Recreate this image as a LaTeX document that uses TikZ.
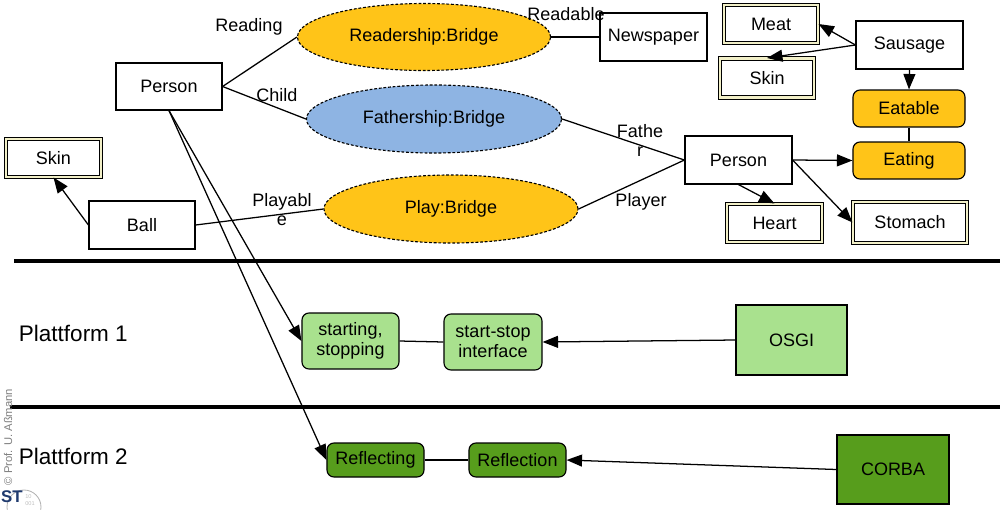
\documentclass[tikz,border=0pt]{standalone}
\usepackage{fontspec}
\setmainfont{Liberation Sans}
\usepackage{tikz}
\usetikzlibrary{arrows.meta,shapes.geometric}
\definecolor{sun}{HTML}{FFC418}
\definecolor{sky}{HTML}{8EB4E3}
\definecolor{leaf}{HTML}{A9E18E}
\definecolor{moss}{HTML}{579D1C}
\definecolor{cream}{HTML}{F2F0C8}
\definecolor{navy}{HTML}{1F3A6E}
\tikzset{
  box/.style={draw,line width=0.8pt,fill=white,inner sep=0pt},
  partbox/.style={box,line width=0.7pt,double=cream,double distance=1.5pt},
  bridge/.style={ellipse,draw,fill=sun,line width=0.8pt,dash pattern=on 2pt off 1.3pt,inner sep=0pt},
  rolebox/.style={draw,line width=0.8pt,rounded corners=5pt,inner sep=0pt,align=center},
  lbl/.style={inner sep=1pt,align=center},
  conn/.style={line width=0.9pt},
  arr/.style={conn,-{Triangle[length=11pt,width=8.5pt]}},
  sepline/.style={line width=2.2pt}
}

\begin{document}
\begin{tikzpicture}[x=0.025cm,y=-0.025cm,font=\fontsize{12.8}{14.5}\selectfont]
    \useasboundingbox (0,0) rectangle (1000,509);
    % separators between the layers
    \coordinate (s1a) at (14,261);
    \coordinate (s1b) at (1000,261);
    \coordinate (s2a) at (10,407);
    \coordinate (s2b) at (1000,407);
    \draw[sepline] (s1a) -- (s1b);
    \draw[sepline] (s2a) -- (s2b);

    % model layer
    \node[box,minimum width=2.65cm,minimum height=1.175cm] (person) at (169,86.5) {Person};
    \node[bridge,minimum width=6.325cm,minimum height=1.675cm] (reader) at (424,37) {Readership:Bridge};
    \node[box,minimum width=2.675cm,minimum height=1.2cm] (paper) at (653.5,37) {Newspaper};
    \node[bridge,fill=sky,minimum width=6.375cm,minimum height=1.7cm] (father) at (434,119) {Fathership:Bridge};
    \node[bridge,minimum width=6.35cm,minimum height=1.7cm] (play) at (451,209) {Play:Bridge};
    \node[box,minimum width=2.65cm,minimum height=1.2cm] (ball) at (142,225) {Ball};
    \node[partbox,minimum width=2.375cm,minimum height=0.95cm] (skinA) at (53.5,158) {Skin};
    \node[box,minimum width=2.675cm,minimum height=1.2cm] (personB) at (738.5,160) {Person};
    \node[partbox,minimum width=2.35cm,minimum height=0.95cm] (meat) at (771,24) {Meat};
    \node[partbox,minimum width=2.35cm,minimum height=0.975cm] (skinB) at (767,78) {Skin};
    \node[box,minimum width=2.675cm,minimum height=1.2cm] (sausage) at (909.5,45) {Sausage};
    \node[rolebox,fill=sun,minimum width=2.8cm,minimum height=0.925cm] (eatable) at (909,108.5) {Eatable};
    \node[rolebox,fill=sun,minimum width=2.8cm,minimum height=0.925cm] (eating) at (909,160.5) {Eating};
    \node[partbox,minimum width=2.375cm,minimum height=0.95cm] (heart) at (774.5,223) {Heart};
    \node[partbox,minimum width=2.85cm,minimum height=1.025cm] (stomach) at (910,222.5) {Stomach};

    % role labels
    \node[lbl] (lread) at (249,27) {Reading};
    \node[lbl] (lchild) at (277,95) {Child};
    \node[lbl] (lreadable) at (566,14) {Readable};
    \node[lbl,text width=1.2cm] (lfather) at (640,140) {Fathe\\[-1pt]r};
    \node[lbl] (lplayer) at (641,202) {Player};
    \node[lbl,text width=1.6cm] (lplayable) at (282,210) {Playabl\\[-1pt]e};

    \draw[conn] (person.east) -- (reader.west);
    \draw[conn] (person.east) -- (father.west);
    \draw[conn] (reader.east) -- (paper.west);
    \draw[conn] (father.east) -- (personB.west);
    \draw[conn] (play.east) -- (personB.west);
    \draw[conn] (ball.east) -- (play.west);
    \draw[arr] (ball.west) -- (skinA.south);
    \draw[arr] (sausage.west) -- (meat.east);
    \draw[arr] (sausage.west) -- (skinB.north);
    \draw[arr] (sausage.south) -- (eatable.north);
    \draw[conn] (eatable.south) -- (eating.north);
    \draw[arr] (personB.east) -- (eating.west);
    \draw[arr] (personB.east) -- (stomach.west);
    \draw[arr] (personB.south) -- (heart.north);

    % platform layers
    \node[anchor=west,font=\fontsize{16}{18}\selectfont] (plat1) at (14,333) {Plattform 1};
    \node[anchor=west,font=\fontsize{16}{18}\selectfont] (plat2) at (14,456) {Plattform 2};
    \node[rolebox,fill=leaf,minimum width=2.425cm,minimum height=1.4cm] (start) at (350.5,341) {starting,\\stopping};
    \node[rolebox,fill=leaf,minimum width=2.45cm,minimum height=1.4cm] (iface) at (493,342) {start-stop\\interface};
    \node[box,fill=leaf,minimum width=2.775cm,minimum height=1.75cm] (osgi) at (791.5,340) {OSGI};
    \node[rolebox,fill=moss,minimum width=2.425cm,minimum height=0.85cm] (reflecting) at (375.5,460) {Reflecting};
    \node[rolebox,fill=moss,minimum width=2.425cm,minimum height=0.85cm] (reflection) at (517.5,460) {Reflection};
    \node[box,fill=moss,minimum width=2.8cm,minimum height=1.725cm] (corba) at (893,469.5) {CORBA};

    \draw[conn] (start.east) -- (iface.west);
    \draw[arr] (osgi.west) -- (iface.east);
    \draw[conn] (reflecting.east) -- (reflection.west);
    \draw[arr] (corba.west) -- (reflection.east);
    \draw[arr] (person.south) -- (start.west);
    \draw[arr] (person.south) -- (reflecting.west);

    % footer
    \node[rotate=90,gray,font=\fontsize{8}{9}\selectfont] (copy) at (8,437) {\textcopyright{} Prof. U. Aßmann};
    \draw[gray!60,line width=0.6pt] (24,507) circle (17);
    \node[gray!50,font=\fontsize{4}{4.5}\selectfont,align=left] (bits) at (30,500) {10\\001};
    \node[navy,font=\bfseries\fontsize{12}{12}\selectfont] (logo) at (12,497) {ST};
  \end{tikzpicture}
\end{document}
